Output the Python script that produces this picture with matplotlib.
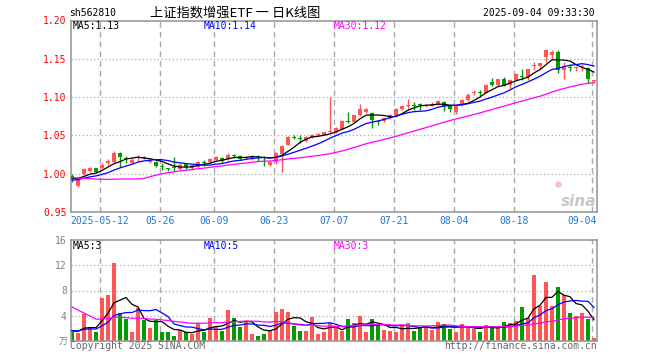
import matplotlib
matplotlib.use("Agg")
import matplotlib.pyplot as plt
import numpy as np
import pandas as pd

COLORS = {
    "up": "#ff5555",
    "down": "#009c00",
    "ma5": "#000000",
    "ma10": "#0000ff",
    "ma30": "#ff00ff",
    "grid": "#a8a8a8",
    "border": "#9a9a9a",
    "price_lbl": "#ff0000",
    "vol_lbl": "#808080",
    "date_lbl": "#1f78d1",
    "foot": "#666666",
}
MONO = "DejaVu Sans Mono"
CJK = ["Noto Sans CJK SC", "DejaVu Sans"]

# trading calendar (weekdays minus exchange holidays)
start_date = "2025-04-30"
end_date = "2025-09-04"
holidays = ["2025-05-01", "2025-05-02", "2025-05-05", "2025-06-02"]
label_dates = ["2025-05-12", "2025-05-26", "2025-06-09", "2025-06-23", "2025-07-07",
               "2025-07-21", "2025-08-04", "2025-08-18", "2025-09-04"]

opens = [0.997, 0.984, 0.999, 1.003, 1.007, 1.007, 1.014, 1.015, 1.027, 1.021,
         1.014, 1.020, 1.022, 1.015, 1.015, 1.010, 1.007, 1.008, 1.006, 1.013,
         1.007, 1.009, 1.015, 1.015, 1.018, 1.020, 1.019, 1.024, 1.023, 1.020,
         1.019, 1.023, 1.021, 1.011, 1.015, 1.026, 1.038, 1.048, 1.047, 1.043,
         1.048, 1.051, 1.051, 1.054, 1.054, 1.059, 1.069, 1.068, 1.076, 1.080,
         1.079, 1.069, 1.069, 1.073, 1.077, 1.084, 1.089, 1.090, 1.091, 1.088,
         1.089, 1.091, 1.094, 1.088, 1.081, 1.090, 1.0965, 1.105, 1.107, 1.106,
         1.120, 1.116, 1.1235, 1.116, 1.122, 1.128, 1.126, 1.141, 1.141, 1.153,
         1.155, 1.159, 1.136, 1.139, 1.138, 1.1395, 1.138, 1.121]
highs = [0.999, 0.994, 1.007, 1.009, 1.008, 1.014, 1.019, 1.030, 1.028, 1.023,
         1.020, 1.025, 1.023, 1.019, 1.016, 1.014, 1.008, 1.022, 1.014, 1.014,
         1.012, 1.016, 1.018, 1.020, 1.023, 1.022, 1.027, 1.026, 1.024, 1.023,
         1.025, 1.024, 1.023, 1.016, 1.028, 1.037, 1.049, 1.050, 1.050, 1.049,
         1.052, 1.053, 1.055, 1.100, 1.061, 1.070, 1.081, 1.077, 1.091, 1.086,
         1.080, 1.070, 1.073, 1.078, 1.086, 1.089, 1.098, 1.094, 1.092, 1.091,
         1.093, 1.096, 1.095, 1.089, 1.089, 1.097, 1.105, 1.109, 1.109, 1.117,
         1.125, 1.124, 1.126, 1.123, 1.131, 1.1365, 1.137, 1.146, 1.145, 1.163,
         1.162, 1.161, 1.146, 1.143, 1.141, 1.143, 1.139, 1.122]
lows = [0.989, 0.982, 0.998, 1.002, 1.001, 1.006, 1.012, 1.014, 1.009, 1.014,
        1.013, 1.017, 1.019, 1.014, 1.009, 1.005, 1.003, 1.004, 1.005, 1.006,
        1.005, 1.008, 1.010, 1.014, 1.017, 1.014, 1.018, 1.020, 1.018, 1.019,
        1.018, 1.017, 1.010, 1.010, 1.013, 1.002, 1.037, 1.045, 1.040, 1.042,
        1.047, 1.049, 1.050, 1.053, 1.053, 1.058, 1.066, 1.067, 1.075, 1.079,
        1.060, 1.063, 1.067, 1.072, 1.076, 1.083, 1.085, 1.083, 1.083, 1.087,
        1.088, 1.090, 1.082, 1.081, 1.078, 1.089, 1.095, 1.103, 1.101, 1.105,
        1.115, 1.115, 1.114, 1.110, 1.121, 1.122, 1.122, 1.136, 1.137, 1.146,
        1.150, 1.131, 1.123, 1.134, 1.134, 1.134, 1.118, 1.118]
closes = [0.995, 0.993, 1.006, 1.008, 1.002, 1.012, 1.016, 1.027, 1.022, 1.019,
          1.018, 1.022, 1.021, 1.018, 1.010, 1.009, 1.006, 1.007, 1.012, 1.009,
          1.011, 1.015, 1.014, 1.019, 1.022, 1.017, 1.025, 1.023, 1.019, 1.022,
          1.023, 1.022, 1.020, 1.015, 1.027, 1.036, 1.048, 1.047, 1.046, 1.048,
          1.051, 1.052, 1.054, 1.055, 1.060, 1.069, 1.068, 1.076, 1.085, 1.084,
          1.070, 1.068, 1.073, 1.077, 1.085, 1.089, 1.090, 1.089, 1.090, 1.089,
          1.091, 1.095, 1.088, 1.084, 1.088, 1.0965, 1.103, 1.107, 1.106, 1.116,
          1.116, 1.1235, 1.115, 1.122, 1.130, 1.127, 1.1365, 1.142, 1.144, 1.162,
          1.159, 1.136, 1.140, 1.1385, 1.1387, 1.140, 1.124, 1.122]
# volume in 万
volumes = [1.37, 1.26, 4.27, 2.27, 1.42, 6.85, 7.27, 12.4, 4.43, 3.53,
           1.42, 5.16, 3.4, 2.1, 3.3, 1.4, 1.5, 0.84, 1.74, 1.37,
           1.16, 2.8, 1.37, 3.7, 2.4, 1.6, 4.9, 3.7, 2.27, 3.16,
           1.16, 0.84, 1.16, 1.8, 4.6, 5.06, 4.6, 2.4, 1.6, 1.6,
           3.85, 1.16, 1.37, 2.8, 2.0, 1.58, 3.48, 2.85, 3.95, 1.37,
           3.48, 2.53, 1.74, 1.58, 1.42, 2.42, 2.85, 1.58, 2.27, 2.27,
           1.74, 3.0, 2.7, 1.9, 1.42, 2.7, 2.42, 1.9, 1.42, 2.53,
           2.37, 2.16, 3.0, 2.85, 3.16, 5.4, 3.7, 10.4, 5.6, 9.4,
           5.5, 8.5, 7.3, 4.4, 4.0, 4.4, 3.5, 0.5]
# estimated sessions before the window, only feed the moving averages
prior_closes = [1.015, 1.020, 1.018, 1.016, 1.020, 1.022, 1.018, 1.015, 1.017, 1.019,
                1.020, 1.005, 0.945, 0.950, 0.955, 0.965, 0.972, 0.978, 0.982, 0.983,
                0.985, 0.988, 0.990, 0.990, 0.992, 0.993, 0.994, 0.993, 0.995]
prior_volumes = [17, 18, 16, 17, 6, 5.5, 5, 5.5, 4.5, 5,
                 4.5, 4.5, 5, 4.5, 4.5, 4.5, 5, 4.5, 4.5, 4.5,
                 2, 1.8, 1.5, 1.8, 1.7, 1.6, 1.8, 1.7, 1.5]

price_ticks = [0.95, 1.00, 1.05, 1.10, 1.15, 1.20]
vol_ticks = [4, 8, 12, 16]

W, H = 660, 360


def px(x, y):
    return x / W, 1 - y / H


def moving(prior, values, n):
    s = pd.Series(list(prior) + list(values))
    return s.rolling(n).mean().iloc[len(prior):].to_numpy()


def style_panel(ax):
    for sp in ax.spines.values():
        sp.set_color(COLORS["border"])
        sp.set_linewidth(1.2)
    ax.tick_params(axis="x", length=0, labelbottom=False)
    ax.tick_params(axis="y", length=0, pad=3)
    for t in line_pos:
        ax.axvline(t, color=COLORS["grid"], linewidth=1, linestyle=(0, (4, 3)), zorder=0)


dates = pd.bdate_range(start_date, end_date)
dates = dates[~dates.isin(pd.to_datetime(holidays))]
x = np.arange(len(dates))
o, h, l, c = map(np.array, (opens, highs, lows, closes))
v = np.array(volumes)
cols = [COLORS["up"] if cc >= oo else COLORS["down"] for oo, cc in zip(o, c)]
label_idx = [dates.get_loc(pd.Timestamp(d)) for d in label_dates]
line_pos = [i - 0.35 for i in label_idx]

fig = plt.figure(figsize=(W / 100, H / 100), dpi=100)
fig.patch.set_facecolor("white")
ax_p = fig.add_axes([71 / W, (H - 212) / H, (597 - 71) / W, (212 - 20.5) / H])
ax_v = fig.add_axes([71 / W, (H - 341) / H, (597 - 71) / W, (341 - 240) / H])
xlim = (-0.17, len(x) - 0.5)

# --- PRICE ---
style_panel(ax_p)
for lvl in price_ticks[1:-1]:
    ax_p.axhline(lvl, color=COLORS["grid"], linewidth=0.9, linestyle=(0, (1, 2)), zorder=0)
ax_p.vlines(x, l, h, colors=cols, linewidth=1.0, zorder=2)
body = np.abs(c - o)
min_h = 0.0013
ax_p.bar(x, np.maximum(body, min_h), bottom=np.minimum(o, c) - np.clip(min_h - body, 0, None) / 2,
         width=0.72, color=cols, linewidth=0, zorder=3)
ma_p = {n: moving(prior_closes, closes, n) for n in (5, 10, 30)}
for n in (5, 10, 30):
    ax_p.plot(x, ma_p[n], color=COLORS[f"ma{n}"], linewidth=0.9, zorder=4)
ax_p.set_xlim(*xlim)
ax_p.set_ylim(price_ticks[0], price_ticks[-1])
ax_p.set_yticks(price_ticks)
ax_p.set_yticklabels([f"{t:.2f}" for t in price_ticks], color=COLORS["price_lbl"],
                     fontsize=7, family=MONO)

# --- VOLUME ---
style_panel(ax_v)
for lvl in vol_ticks[:-1]:
    ax_v.axhline(lvl, color=COLORS["grid"], linewidth=0.9, linestyle=(0, (1, 2)), zorder=0)
ax_v.bar(x, v, width=0.78, color=cols, linewidth=0, zorder=2)
ma_v = {n: moving(prior_volumes, volumes, n) for n in (5, 10, 30)}
for n in (5, 10, 30):
    ax_v.plot(x, ma_v[n], color=COLORS[f"ma{n}"], linewidth=0.9, zorder=4)
ax_v.set_xlim(*xlim)
ax_v.set_ylim(0, vol_ticks[-1])
ax_v.set_yticks(vol_ticks)
ax_v.set_yticklabels([str(t) for t in vol_ticks], color=COLORS["vol_lbl"], fontsize=7, family=MONO)

# --- MA legends ---
for n, xp in ((5, 73), (10, 204), (30, 334)):
    fig.text(*px(xp, 26), f"MA{n}:{ma_p[n][-1]:.2f}", color=COLORS[f"ma{n}"],
             fontsize=7, family=MONO, va="center")
    fig.text(*px(xp, 246), f"MA{n}:{int(ma_v[n][-1])}", color=COLORS[f"ma{n}"],
             fontsize=7, family=MONO, va="center")

# --- date labels ---
for k, (i, d) in enumerate(zip(label_idx, label_dates)):
    txt = d if k == 0 else d[5:]
    if k == len(label_dates) - 1:
        ax_p.text(1.0, -0.045, txt, transform=ax_p.transAxes, ha="right", va="center",
                  fontsize=7, family=MONO, color=COLORS["date_lbl"])
    else:
        ax_p.text(line_pos[k], -0.045, txt, transform=ax_p.get_xaxis_transform(),
                  ha="center", va="center", fontsize=7, family=MONO, color=COLORS["date_lbl"])

# --- header / footer ---
fig.text(*px(69, 13), "sh562810", fontsize=7, family=MONO, va="center")
fig.text(*px(150, 13), "上证指数增强ETF 一 日K线图", fontsize=9.5, family=CJK, va="center")
fig.text(*px(595, 13), "2025-09-04 09:33:30", fontsize=7, family=MONO, va="center", ha="right")
fig.text(*px(70, 346), "Copyright 2025 SINA.COM", fontsize=7, family=MONO, va="center",
         color=COLORS["foot"])
fig.text(*px(597, 346), "http://finance.sina.com.cn", fontsize=7, family=MONO, va="center",
         ha="right", color=COLORS["foot"])
fig.text(*px(63, 342), "万", fontsize=6.5, family=CJK, va="center", ha="center",
         color=COLORS["vol_lbl"])
# sina watermark: pink eye above grey wordmark
ax_p.scatter([0.925], [0.145], s=22, color="#f6c2c2", transform=ax_p.transAxes,
             linewidths=0, zorder=1)
fig.text(*px(596, 201), "sina", fontsize=11, fontweight="bold", style="italic",
         color="#c8c8c8", ha="right", va="center")

fig.savefig("out.png", dpi=100, facecolor="white")
